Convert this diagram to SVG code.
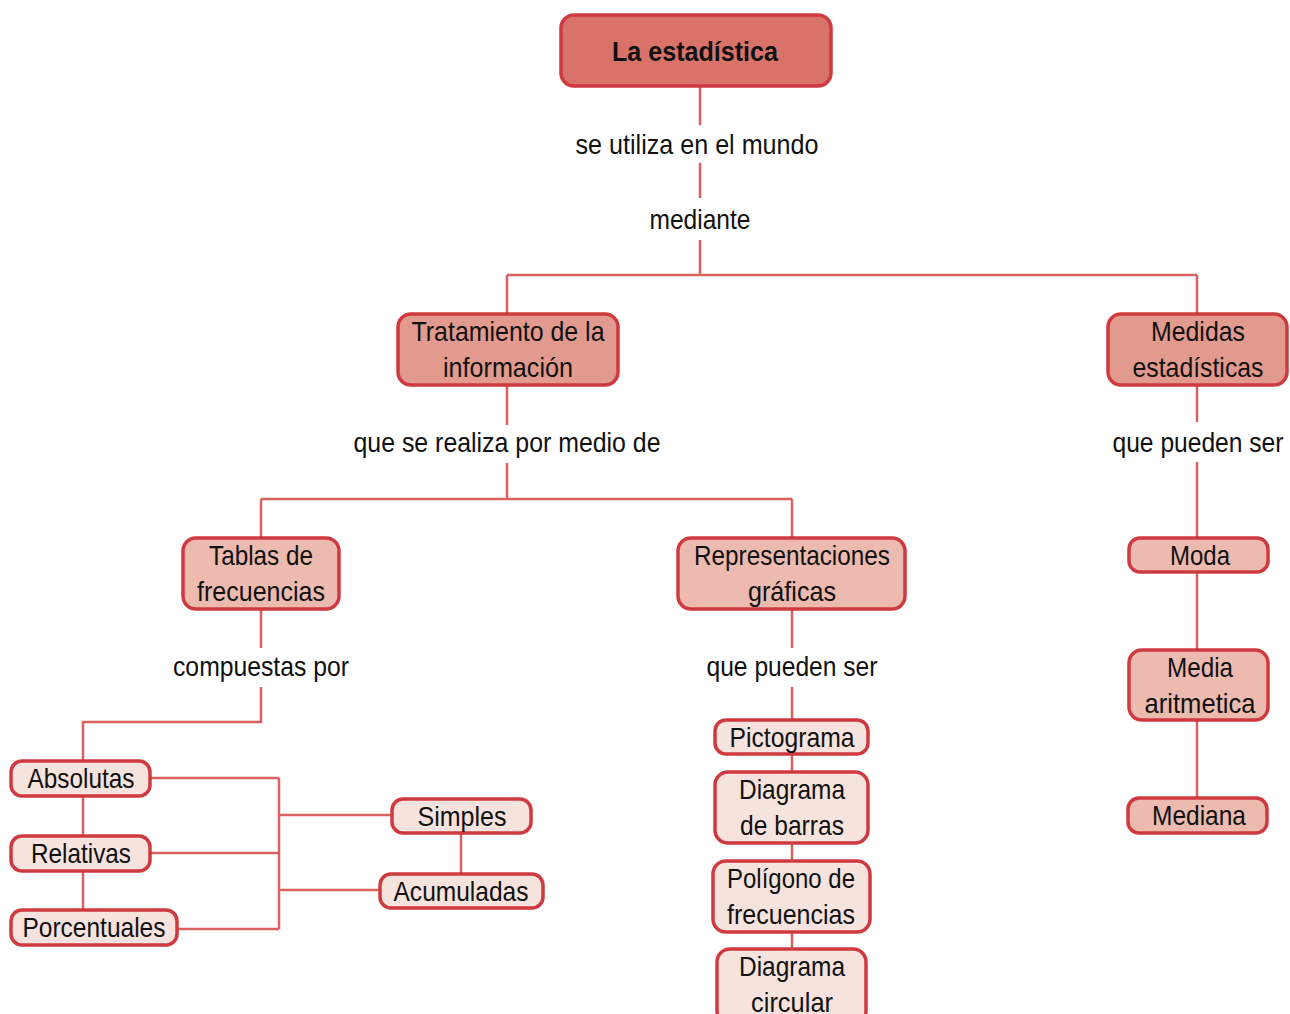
<svg xmlns="http://www.w3.org/2000/svg" width="1290" height="1014" viewBox="0 0 1290 1014">
<style>
.bg{fill:#ffffff}
.n rect{stroke:#cf3a40;stroke-width:3.5}
.l0{fill:#d9736a}
.l1{fill:#e39a8e}
.l2{fill:#ecbaae}
.l3{fill:#f6e3de}
text{font-family:"Liberation Sans Narrow","Liberation Sans",Arial,sans-serif;font-size:28px;fill:#111;text-anchor:middle}
.b{font-weight:bold}
#connectors path{fill:none;stroke:#d9625f;stroke-width:2.5}
</style>
<rect class="bg" x="0" y="0" width="1290" height="1014"/>
<g id="connectors">
<path d="M700 86V125M700 163V198M700 240V275M507 275H1197M507 275V314M1197 275V314"/>
<path d="M507 385V425M507 463V499M261 499H792M261 499V538M792 499V538"/>
<path d="M1197 385V422M1197 462V538M1197 572V650M1197 720V798"/>
<path d="M261 609V648M261 687V722H83V761M83 796V836M83 871V910"/>
<path d="M150 778H279M150 853H279M177 929H279M279 778V929M279 815H392M279 890H380M461 833V874"/>
<path d="M792 609V648M792 687V720M792 754V772M792 843V861M792 932V949"/>
</g>
<g id="labels">
<text x="697" y="154" textLength="243" lengthAdjust="spacingAndGlyphs">se utiliza en el mundo</text>
<text x="700" y="229" textLength="101" lengthAdjust="spacingAndGlyphs">mediante</text>
<text x="507" y="452" textLength="307" lengthAdjust="spacingAndGlyphs">que se realiza por medio de</text>
<text x="1198" y="452" textLength="171" lengthAdjust="spacingAndGlyphs">que pueden ser</text>
<text x="261" y="676" textLength="176" lengthAdjust="spacingAndGlyphs">compuestas por</text>
<text x="792" y="676" textLength="171" lengthAdjust="spacingAndGlyphs">que pueden ser</text>
</g>
<g id="n-estadistica" class="n"><rect class="l0" x="561" y="15" width="270" height="71" rx="13"/><text class="b" x="695" y="61" textLength="166" lengthAdjust="spacingAndGlyphs">La estadística</text></g>
<g id="n-tratamiento" class="n"><rect class="l1" x="398" y="314" width="220" height="71" rx="13"/><text x="508" y="341" textLength="193" lengthAdjust="spacingAndGlyphs">Tratamiento de la</text><text x="508" y="377" textLength="130" lengthAdjust="spacingAndGlyphs">información</text></g>
<g id="n-medidas" class="n"><rect class="l1" x="1108" y="314" width="179" height="71" rx="13"/><text x="1198" y="341" textLength="94" lengthAdjust="spacingAndGlyphs">Medidas</text><text x="1198" y="377" textLength="131" lengthAdjust="spacingAndGlyphs">estadísticas</text></g>
<g id="n-tablas" class="n"><rect class="l2" x="183" y="538" width="156" height="71" rx="13"/><text x="261" y="565" textLength="104" lengthAdjust="spacingAndGlyphs">Tablas de</text><text x="261" y="601" textLength="128" lengthAdjust="spacingAndGlyphs">frecuencias</text></g>
<g id="n-representaciones" class="n"><rect class="l2" x="678" y="538" width="227" height="71" rx="13"/><text x="792" y="565" textLength="196" lengthAdjust="spacingAndGlyphs">Representaciones</text><text x="792" y="601" textLength="88" lengthAdjust="spacingAndGlyphs">gráficas</text></g>
<g id="n-moda" class="n"><rect class="l2" x="1129" y="538" width="139" height="34" rx="11"/><text x="1200" y="565" textLength="60" lengthAdjust="spacingAndGlyphs">Moda</text></g>
<g id="n-media" class="n"><rect class="l2" x="1129" y="650" width="139" height="70" rx="13"/><text x="1200" y="677" textLength="66" lengthAdjust="spacingAndGlyphs">Media</text><text x="1200" y="713" textLength="111" lengthAdjust="spacingAndGlyphs">aritmetica</text></g>
<g id="n-mediana" class="n"><rect class="l2" x="1128" y="798" width="139" height="35" rx="11"/><text x="1199" y="825" textLength="94" lengthAdjust="spacingAndGlyphs">Mediana</text></g>
<g id="n-absolutas" class="n"><rect class="l3" x="11" y="761" width="139" height="35" rx="11"/><text x="81" y="788" textLength="107" lengthAdjust="spacingAndGlyphs">Absolutas</text></g>
<g id="n-relativas" class="n"><rect class="l3" x="11" y="836" width="139" height="35" rx="11"/><text x="81" y="863" textLength="100" lengthAdjust="spacingAndGlyphs">Relativas</text></g>
<g id="n-porcentuales" class="n"><rect class="l3" x="11" y="910" width="166" height="35" rx="11"/><text x="94" y="937" textLength="143" lengthAdjust="spacingAndGlyphs">Porcentuales</text></g>
<g id="n-simples" class="n"><rect class="l3" x="392" y="799" width="139" height="34" rx="11"/><text x="462" y="826" textLength="89" lengthAdjust="spacingAndGlyphs">Simples</text></g>
<g id="n-acumuladas" class="n"><rect class="l3" x="380" y="874" width="163" height="34" rx="11"/><text x="461" y="901" textLength="135" lengthAdjust="spacingAndGlyphs">Acumuladas</text></g>
<g id="n-pictograma" class="n"><rect class="l3" x="715" y="720" width="153" height="34" rx="11"/><text x="792" y="747" textLength="125" lengthAdjust="spacingAndGlyphs">Pictograma</text></g>
<g id="n-barras" class="n"><rect class="l3" x="715" y="772" width="153" height="71" rx="13"/><text x="792" y="799" textLength="106" lengthAdjust="spacingAndGlyphs">Diagrama</text><text x="792" y="835" textLength="104" lengthAdjust="spacingAndGlyphs">de barras</text></g>
<g id="n-poligono" class="n"><rect class="l3" x="713" y="861" width="157" height="71" rx="13"/><text x="791" y="888" textLength="128" lengthAdjust="spacingAndGlyphs">Polígono de</text><text x="791" y="924" textLength="128" lengthAdjust="spacingAndGlyphs">frecuencias</text></g>
<g id="n-circular" class="n"><rect class="l3" x="717" y="949" width="149" height="75" rx="13"/><text x="792" y="976" textLength="106" lengthAdjust="spacingAndGlyphs">Diagrama</text><text x="792" y="1012" textLength="82" lengthAdjust="spacingAndGlyphs">circular</text></g>
</svg>
